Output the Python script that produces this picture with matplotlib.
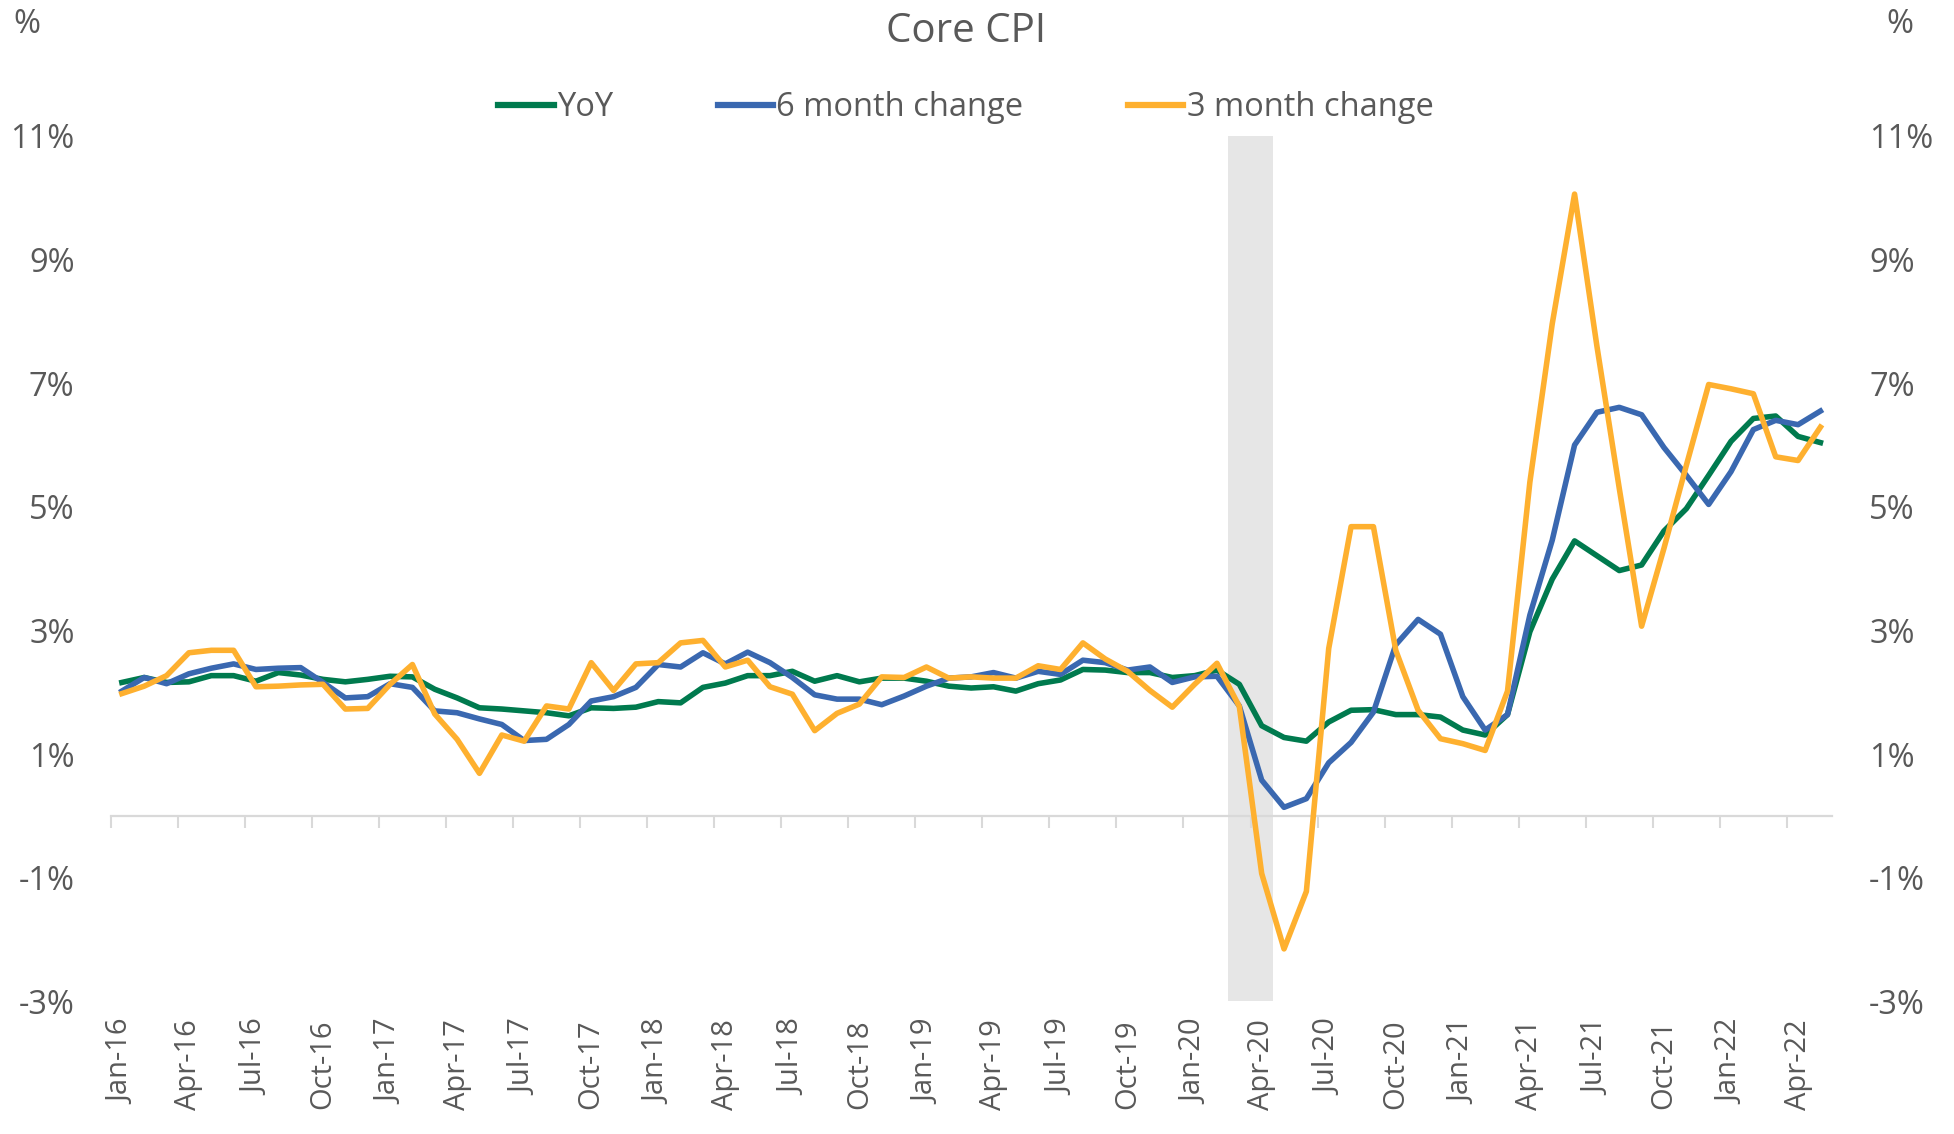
"""
Core CPI - YoY, 6 month and 3 month annualised change (Jan-16 .. May-22)
"""
import matplotlib
matplotlib.use('Agg')
import matplotlib.pyplot as plt
import numpy as np
import pandas as pd

plt.rcParams['font.family'] = ['Open Sans', 'DejaVu Sans']

# monthly data, Jan-16 .. May-22 (77 months), in %
months = pd.date_range('2016-01-01', periods=77, freq='MS').strftime('%b-%y').tolist()

yoy = [2.16, 2.24, 2.16, 2.17, 2.27, 2.27, 2.18, 2.32, 2.28, 2.21, 2.17, 2.21,
       2.26, 2.25, 2.05, 1.91, 1.75, 1.73, 1.70, 1.67, 1.62, 1.75, 1.74, 1.76,
       1.85, 1.83, 2.08, 2.15, 2.27, 2.27, 2.34, 2.18, 2.27, 2.17, 2.23, 2.23,
       2.18, 2.10, 2.07, 2.09, 2.02, 2.14, 2.20, 2.37, 2.36, 2.32, 2.32, 2.24,
       2.27, 2.36, 2.13, 1.46, 1.27, 1.21, 1.52, 1.71, 1.72, 1.64, 1.64, 1.60,
       1.39, 1.31, 1.64, 2.98, 3.83, 4.45, 4.21, 3.97, 4.06, 4.61, 4.97, 5.51,
       6.06, 6.43, 6.47, 6.14, 6.04]

chg_6m = [2.02, 2.24, 2.14, 2.30, 2.39, 2.46, 2.37, 2.39, 2.40, 2.16, 1.91, 1.93,
          2.14, 2.08, 1.70, 1.67, 1.57, 1.48, 1.22, 1.24, 1.48, 1.86, 1.93, 2.08,
          2.45, 2.41, 2.64, 2.46, 2.65, 2.48, 2.24, 1.96, 1.89, 1.89, 1.80, 1.94,
          2.10, 2.23, 2.25, 2.32, 2.23, 2.34, 2.29, 2.52, 2.48, 2.36, 2.41, 2.16,
          2.25, 2.26, 1.78, 0.58, 0.14, 0.28, 0.86, 1.19, 1.68, 2.77, 3.18, 2.94,
          1.93, 1.39, 1.64, 3.25, 4.46, 6.00, 6.53, 6.61, 6.49, 5.96, 5.51, 5.04,
          5.57, 6.25, 6.40, 6.33, 6.55]

chg_3m = [1.98, 2.10, 2.27, 2.64, 2.68, 2.68, 2.09, 2.10, 2.12, 2.13, 1.73, 1.74,
          2.13, 2.45, 1.65, 1.24, 0.69, 1.31, 1.21, 1.78, 1.73, 2.48, 2.03, 2.46,
          2.48, 2.80, 2.84, 2.41, 2.52, 2.09, 1.97, 1.38, 1.66, 1.81, 2.25, 2.24,
          2.41, 2.23, 2.25, 2.23, 2.23, 2.43, 2.37, 2.80, 2.54, 2.34, 2.03, 1.76,
          2.13, 2.47, 1.77, -0.93, -2.15, -1.22, 2.71, 4.68, 4.68, 2.68, 1.71, 1.25,
          1.17, 1.06, 2.02, 5.40, 7.96, 10.06, 7.60, 5.30, 3.07, 4.33, 5.67, 6.98,
          6.91, 6.83, 5.81, 5.75, 6.29]

recession = ['Mar-20', 'Apr-20']
y_ticks = [-3, -1, 1, 3, 5, 7, 9, 11]

GREEN = '#007A4E'
BLUE = '#3A68B0'
ORANGE = '#FEB02F'
TEXT = '#595959'
AXIS = '#D9D9D9'
FS = 23.5
LW = 4.0

x = np.arange(len(months))

fig = plt.figure(figsize=(19.54, 11.34), dpi=100)
ax = fig.add_axes([0.05665, 0.1169, 0.8807, 0.7632])

# recession shading (whole category width)
r0 = months.index(recession[0])
r1 = months.index(recession[-1])
ax.axvspan(r0 - 0.5, r1 + 0.5, color='#E6E6E6', lw=0, zorder=0)

ax.plot(x, yoy, color=GREEN, lw=LW, label='YoY', zorder=3)
ax.plot(x, chg_6m, color=BLUE, lw=LW, label='6 month change', zorder=4)
ax.plot(x, chg_3m, color=ORANGE, lw=LW, label='3 month change', zorder=5)

ax.set_xlim(-0.5, len(months) - 0.5)
ax.set_ylim(y_ticks[0], y_ticks[-1])

for s in ['top', 'left', 'right']:
    ax.spines[s].set_visible(False)
ax.spines['bottom'].set_position(('data', 0))
ax.spines['bottom'].set_color(AXIS)
ax.spines['bottom'].set_linewidth(1.6)
ax.spines['bottom'].set_zorder(2)

# tick marks between categories, every 3 months
ax.set_xticks(np.arange(-0.5, len(months) - 1, 3))
ax.tick_params(axis='x', direction='out', length=8.6, width=1.5, color=AXIS,
               labelbottom=False)

# category labels at the bottom of the plot
sec = ax.secondary_xaxis('bottom')
sec.set_xticks(x[::3], [months[i] for i in x[::3]])
sec.tick_params(length=0, pad=13, labelsize=21, labelcolor=TEXT,
                labelrotation=90)
sec.spines['bottom'].set_visible(False)

ax.set_yticks(y_ticks, [f'{v}%' for v in y_ticks])
ax.tick_params(axis='y', length=0, pad=26, labelsize=FS, labelcolor=TEXT)

ax2 = ax.twinx()
ax2.set_ylim(ax.get_ylim())
ax2.set_yticks(y_ticks, [f'{v}%' for v in y_ticks])
ax2.tick_params(axis='y', length=0, pad=27, labelsize=FS, labelcolor=TEXT)
for s in ax2.spines.values():
    s.set_visible(False)

fig.text(0.4943, 0.972, 'Core CPI', ha='center', va='center', fontsize=29, color=TEXT)
fig.text(0.0140, 0.978, '%', ha='center', va='center', fontsize=FS, color=TEXT)
fig.text(0.9724, 0.978, '%', ha='center', va='center', fontsize=FS, color=TEXT)

leg = ax.legend(loc='center', bbox_to_anchor=(0.4943, 0.905),
                bbox_transform=fig.transFigure, ncol=3, frameon=False,
                fontsize=FS, handlelength=1.7, handletextpad=0.1,
                columnspacing=3.2)
for t in leg.get_texts():
    t.set_color(TEXT)
for h in leg.get_lines():
    h.set_linewidth(4.5)

fig.savefig('out.png', dpi=100)
